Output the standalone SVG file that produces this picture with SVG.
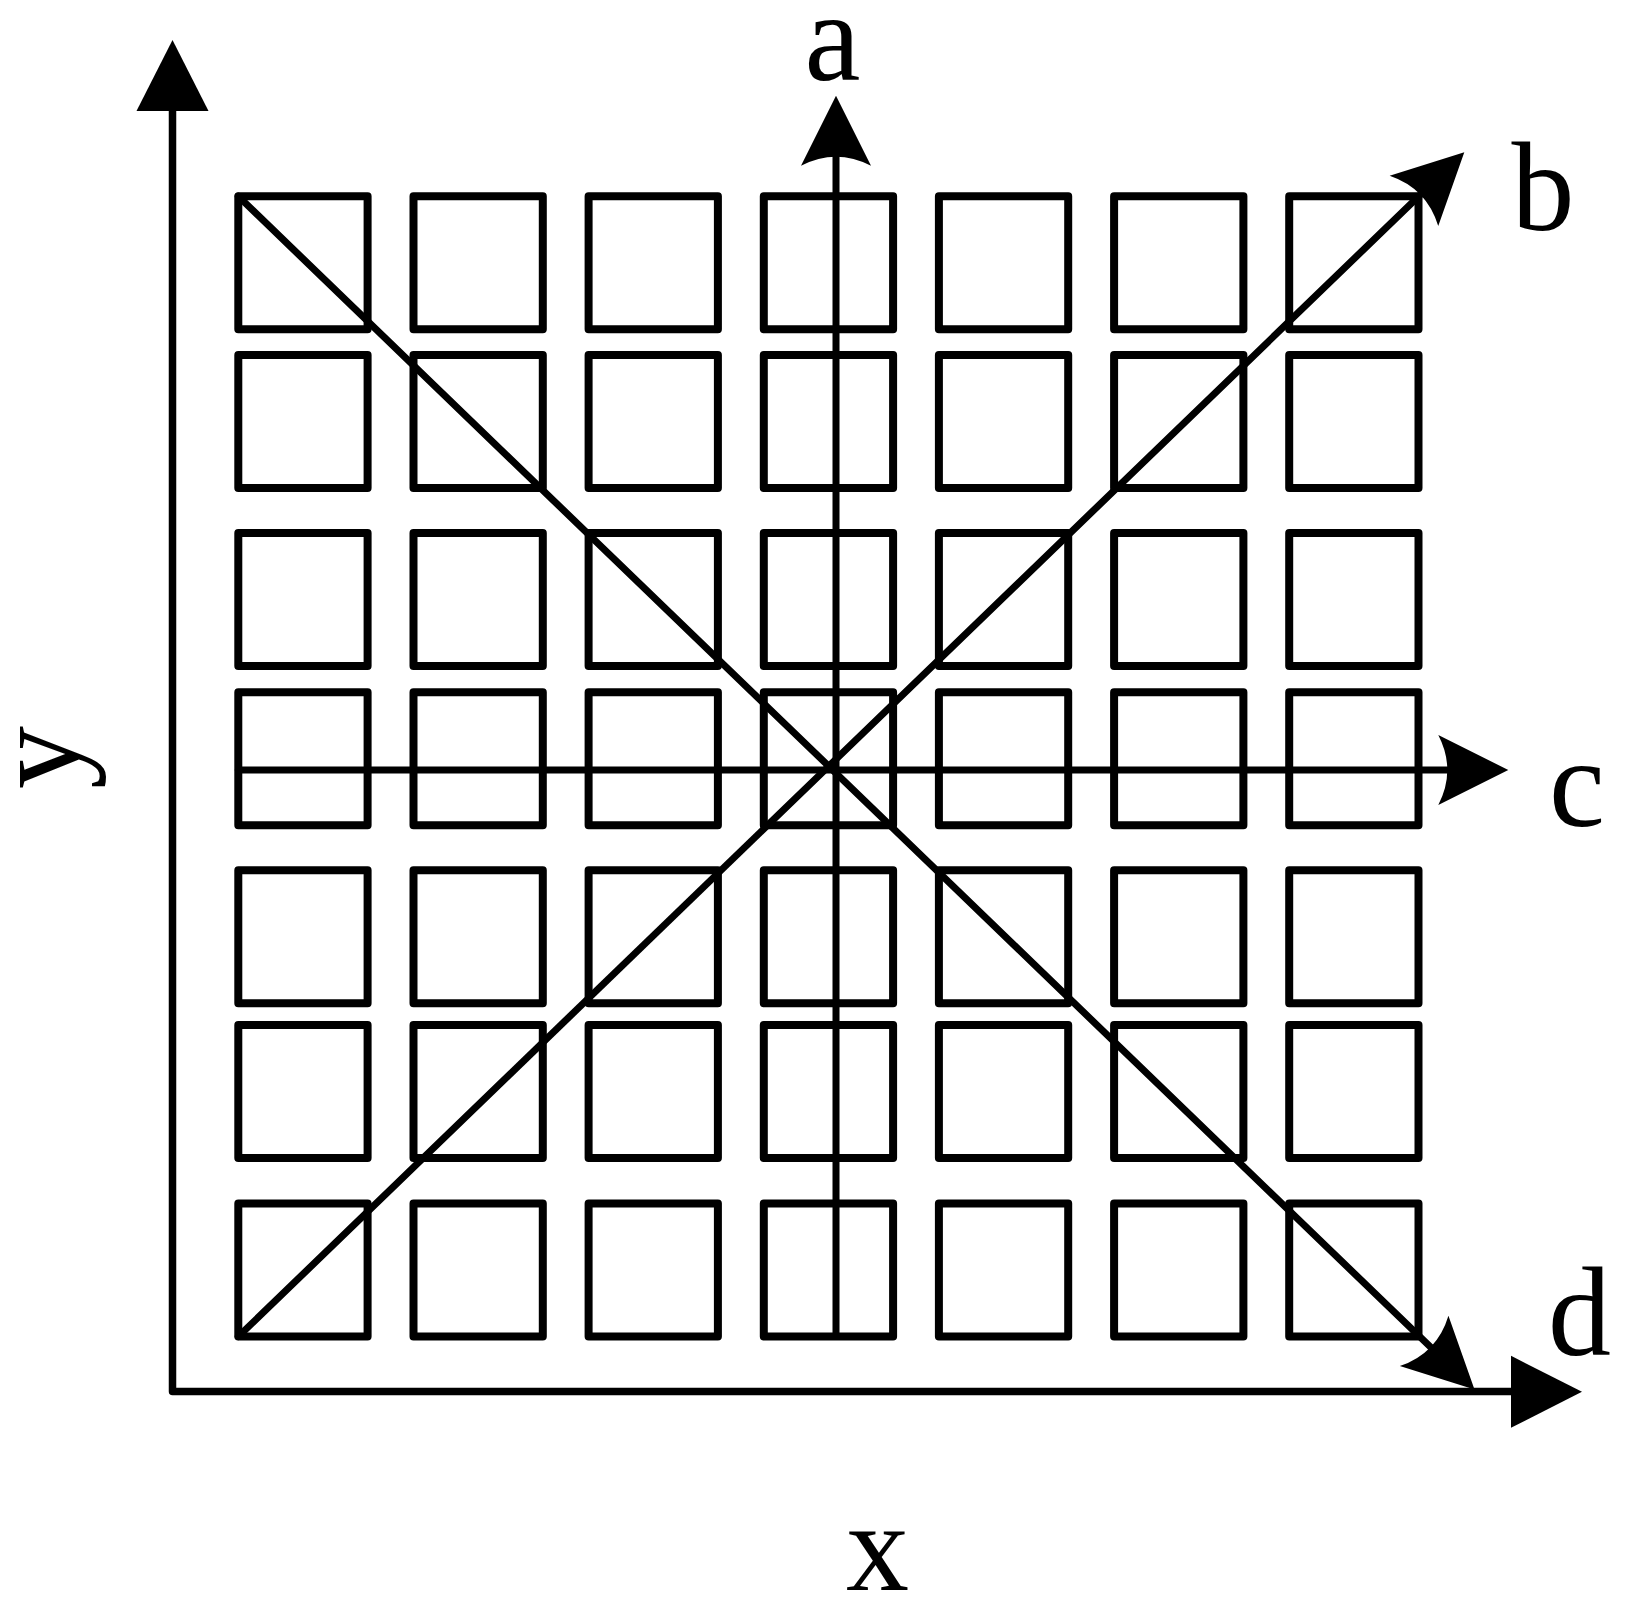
<svg xmlns="http://www.w3.org/2000/svg" xmlns:xlink="http://www.w3.org/1999/xlink" width="1632" height="1616" viewBox="0 0 1632 1616">
<style>
.cell{fill:none;stroke:#000;stroke-width:8;stroke-linejoin:round}
.ln{fill:none;stroke:#000;stroke-width:7;stroke-linecap:round}
.axis{fill:none;stroke:#000;stroke-width:7.5;stroke-linecap:round;stroke-linejoin:round}
.head{fill:#000;stroke:none}
.lbl{font-family:"Liberation Serif","Times New Roman",serif;font-size:126px;fill:#000;text-anchor:middle}
</style>
<defs>
<path id="stealth" d="M0,0 L-70,-35 Q-52,0 -70,35 Z"/>
<path id="tri" d="M0,0 L-71,-36 L-71,36 Z"/>
</defs>
<rect width="1632" height="1616" fill="#fff"/>
<g id="cells">
<g id="r1c1"><rect class="cell" x="238.3" y="196.3" width="129.3" height="133"/></g>
<g id="r1c2"><rect class="cell" x="413.5" y="196.3" width="129.3" height="133"/></g>
<g id="r1c3"><rect class="cell" x="588.6" y="196.3" width="129.3" height="133"/></g>
<g id="r1c4"><rect class="cell" x="763.8" y="196.3" width="129.3" height="133"/></g>
<g id="r1c5"><rect class="cell" x="938.9" y="196.3" width="129.3" height="133"/></g>
<g id="r1c6"><rect class="cell" x="1114.1" y="196.3" width="129.3" height="133"/></g>
<g id="r1c7"><rect class="cell" x="1289.2" y="196.3" width="129.3" height="133"/></g>
<g id="r2c1"><rect class="cell" x="238.3" y="355.1" width="129.3" height="133"/></g>
<g id="r2c2"><rect class="cell" x="413.5" y="355.1" width="129.3" height="133"/></g>
<g id="r2c3"><rect class="cell" x="588.6" y="355.1" width="129.3" height="133"/></g>
<g id="r2c4"><rect class="cell" x="763.8" y="355.1" width="129.3" height="133"/></g>
<g id="r2c5"><rect class="cell" x="938.9" y="355.1" width="129.3" height="133"/></g>
<g id="r2c6"><rect class="cell" x="1114.1" y="355.1" width="129.3" height="133"/></g>
<g id="r2c7"><rect class="cell" x="1289.2" y="355.1" width="129.3" height="133"/></g>
<g id="r3c1"><rect class="cell" x="238.3" y="533.1" width="129.3" height="133"/></g>
<g id="r3c2"><rect class="cell" x="413.5" y="533.1" width="129.3" height="133"/></g>
<g id="r3c3"><rect class="cell" x="588.6" y="533.1" width="129.3" height="133"/></g>
<g id="r3c4"><rect class="cell" x="763.8" y="533.1" width="129.3" height="133"/></g>
<g id="r3c5"><rect class="cell" x="938.9" y="533.1" width="129.3" height="133"/></g>
<g id="r3c6"><rect class="cell" x="1114.1" y="533.1" width="129.3" height="133"/></g>
<g id="r3c7"><rect class="cell" x="1289.2" y="533.1" width="129.3" height="133"/></g>
<g id="r4c1"><rect class="cell" x="238.3" y="692.2" width="129.3" height="133"/></g>
<g id="r4c2"><rect class="cell" x="413.5" y="692.2" width="129.3" height="133"/></g>
<g id="r4c3"><rect class="cell" x="588.6" y="692.2" width="129.3" height="133"/></g>
<g id="r4c4"><rect class="cell" x="763.8" y="692.2" width="129.3" height="133"/></g>
<g id="r4c5"><rect class="cell" x="938.9" y="692.2" width="129.3" height="133"/></g>
<g id="r4c6"><rect class="cell" x="1114.1" y="692.2" width="129.3" height="133"/></g>
<g id="r4c7"><rect class="cell" x="1289.2" y="692.2" width="129.3" height="133"/></g>
<g id="r5c1"><rect class="cell" x="238.3" y="870.2" width="129.3" height="133"/></g>
<g id="r5c2"><rect class="cell" x="413.5" y="870.2" width="129.3" height="133"/></g>
<g id="r5c3"><rect class="cell" x="588.6" y="870.2" width="129.3" height="133"/></g>
<g id="r5c4"><rect class="cell" x="763.8" y="870.2" width="129.3" height="133"/></g>
<g id="r5c5"><rect class="cell" x="938.9" y="870.2" width="129.3" height="133"/></g>
<g id="r5c6"><rect class="cell" x="1114.1" y="870.2" width="129.3" height="133"/></g>
<g id="r5c7"><rect class="cell" x="1289.2" y="870.2" width="129.3" height="133"/></g>
<g id="r6c1"><rect class="cell" x="238.3" y="1025.1" width="129.3" height="133"/></g>
<g id="r6c2"><rect class="cell" x="413.5" y="1025.1" width="129.3" height="133"/></g>
<g id="r6c3"><rect class="cell" x="588.6" y="1025.1" width="129.3" height="133"/></g>
<g id="r6c4"><rect class="cell" x="763.8" y="1025.1" width="129.3" height="133"/></g>
<g id="r6c5"><rect class="cell" x="938.9" y="1025.1" width="129.3" height="133"/></g>
<g id="r6c6"><rect class="cell" x="1114.1" y="1025.1" width="129.3" height="133"/></g>
<g id="r6c7"><rect class="cell" x="1289.2" y="1025.1" width="129.3" height="133"/></g>
<g id="r7c1"><rect class="cell" x="238.3" y="1203.6" width="129.3" height="133"/></g>
<g id="r7c2"><rect class="cell" x="413.5" y="1203.6" width="129.3" height="133"/></g>
<g id="r7c3"><rect class="cell" x="588.6" y="1203.6" width="129.3" height="133"/></g>
<g id="r7c4"><rect class="cell" x="763.8" y="1203.6" width="129.3" height="133"/></g>
<g id="r7c5"><rect class="cell" x="938.9" y="1203.6" width="129.3" height="133"/></g>
<g id="r7c6"><rect class="cell" x="1114.1" y="1203.6" width="129.3" height="133"/></g>
<g id="r7c7"><rect class="cell" x="1289.2" y="1203.6" width="129.3" height="133"/></g>
</g>
<g id="connectors">
<g id="axes">
<path class="axis" d="M172.5,108 V1391.5 H1514"/>
<use href="#tri" class="head" transform="translate(172.5,40) rotate(-90)"/>
<use href="#tri" class="head" transform="translate(1582,1391.8)"/>
</g>
<g id="line-a">
<path class="ln" d="M836,1336.6 V150"/>
<use href="#stealth" class="head" transform="translate(836,95.7) rotate(-90)"/>
</g>
<g id="line-b">
<path class="ln" d="M238.3,1336.6 L1424.7,190.5"/>
<use href="#stealth" class="head" transform="translate(1464.3,152.3) rotate(-43.99)"/>
</g>
<g id="line-c">
<path class="ln" d="M238.3,770 H1450"/>
<use href="#stealth" class="head" transform="translate(1508.3,770)"/>
</g>
<g id="line-d">
<path class="ln" d="M238.3,196.3 L1434.9,1351.3"/>
<use href="#stealth" class="head" transform="translate(1474.5,1389.5) rotate(43.99)"/>
</g>
</g>
<g id="labels">
<g id="label-a"><text class="lbl" x="832.5" y="80">a</text></g>
<g id="label-b"><text class="lbl" x="1543" y="230">b</text></g>
<g id="label-c"><text class="lbl" x="1577" y="826">c</text></g>
<g id="label-d"><text class="lbl" x="1579.5" y="1355">d</text></g>
<g id="label-x"><text class="lbl" x="877.5" y="1590">x</text></g>
<g id="label-y"><text class="lbl" transform="translate(79,757.5) rotate(-90)" x="0" y="0">y</text></g>
</g>
</svg>
